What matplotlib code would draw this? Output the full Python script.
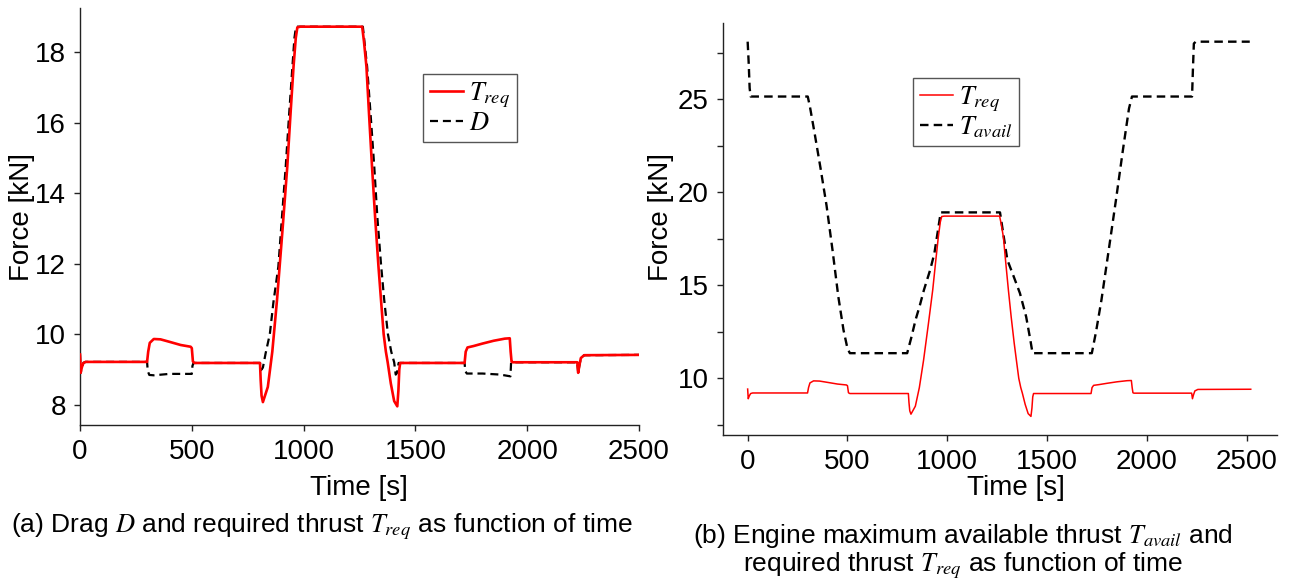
import matplotlib
matplotlib.use("Agg")
import matplotlib.pyplot as plt
import numpy as np

plt.rcParams['font.family'] = ['Liberation Sans', 'DejaVu Sans']
plt.rcParams['mathtext.fontset'] = 'stix'

# ---- data (time [s], force [kN]) ----
t_req = [0, 3, 8, 15, 25, 300, 305, 312, 330, 360, 400, 450, 495, 500, 505, 512,
         805, 808, 812, 818, 840, 860, 881, 905, 927, 942, 955, 965, 972, 985,
         1262, 1270, 1281, 1293, 1306, 1320, 1335, 1347, 1358, 1368, 1376, 1390,
         1405, 1419, 1424, 1428, 1432,
         1720, 1725, 1733, 1760, 1800, 1850, 1900, 1922, 1926, 1930, 1935,
         2224, 2228, 2233, 2240, 2255, 2520]
f_req = [9.42, 8.9, 9.05, 9.18, 9.21, 9.21, 9.5, 9.75, 9.86, 9.85, 9.78, 9.69, 9.64, 9.6, 9.22, 9.18,
         9.18, 8.7, 8.25, 8.07, 8.5, 9.5, 10.96, 12.9, 14.75, 16.3, 17.59, 18.4, 18.7, 18.72,
         18.72, 18.3, 17.59, 16.2, 14.75, 13.3, 11.9, 10.9, 10.0, 9.5, 9.2, 8.6,
         8.1, 7.95, 8.4, 9.0, 9.18,
         9.18, 9.5, 9.62, 9.66, 9.73, 9.81, 9.87, 9.88, 9.5, 9.22, 9.2,
         9.2, 8.9, 9.1, 9.32, 9.4, 9.41]

t_drag = [0, 3, 8, 15, 25, 300, 303, 310, 330, 400, 500, 503, 508,
          805, 810, 818, 830, 849, 865, 887, 903, 920, 936, 950, 959, 966,
          1265, 1272, 1284, 1300, 1316, 1330, 1346, 1360, 1377, 1392, 1405, 1412, 1418, 1425,
          1720, 1723, 1730, 1800, 1880, 1925, 1928,
          2224, 2228, 2233, 2240, 2255, 2520]
f_drag = [9.42, 8.9, 9.05, 9.18, 9.21, 9.21, 8.95, 8.84, 8.83, 8.87, 8.87, 9.1, 9.18,
          9.18, 8.98, 9.05, 9.45, 10.0, 10.9, 11.91, 13.3, 14.75, 16.3, 17.59, 18.4, 18.72,
          18.72, 18.3, 17.59, 16.2, 14.75, 13.3, 12.0, 11.0, 10.0, 9.5, 9.2, 8.85, 8.9, 9.18,
          9.18, 8.95, 8.88, 8.88, 8.85, 8.8, 9.2,
          9.2, 8.9, 9.1, 9.32, 9.4, 9.41]

t_avail = [0, 5, 10, 15, 301, 312, 335, 365, 395, 425, 454, 480, 500, 512,
           799, 820, 841, 862, 883, 914, 935, 956, 967,
           1264, 1280, 1301, 1333, 1364, 1395, 1416, 1427,
           1724, 1745, 1772, 1810, 1845, 1880, 1910, 1925,
           2226, 2230, 2235, 2245, 2515]
f_avail = [28.1, 27.0, 25.6, 25.15, 25.15, 24.6, 23.2, 21.3, 19.3, 16.9, 14.4, 12.6, 11.6, 11.35,
           11.35, 12.2, 13.14, 13.9, 14.75, 15.82, 16.7, 18.15, 18.92,
           18.92, 17.8, 16.36, 15.46, 14.57, 13.31, 12.06, 11.35,
           11.35, 12.5, 14.2, 17.0, 19.6, 22.3, 24.5, 25.15,
           25.15, 26.5, 28.0, 28.1, 28.1]

xticks = [0, 500, 1000, 1500, 2000, 2500]
yticks_a = [8, 10, 12, 14, 16, 18]
yticks_b = [10, 15, 20, 25]
yminor_b = [7.5, 12.5, 17.5, 22.5, 27.5]

W, H = 1295, 586
fig = plt.figure(figsize=(W / 100, H / 100), dpi=100)

def px_axes(x0, y0, x1, y1):
    return fig.add_axes([x0 / W, 1 - y1 / H, (x1 - x0) / W, (y1 - y0) / H])

FS = 20
CFS = 19
dash = (3.6, 2.2)

def style(ax):
    for s in ('top', 'right'):
        ax.spines[s].set_visible(False)
    for s in ('left', 'bottom'):
        ax.spines[s].set_linewidth(1.0)
        ax.spines[s].set_color('#222222')
    ax.tick_params(which='both', direction='out', length=4, width=1.0,
                   labelsize=FS, pad=6, color='#222222')

# ---- panel (a) ----
ax1 = px_axes(80, 8, 639, 425)
ax1.plot(t_drag, f_drag, color='black', lw=1.6, dashes=dash, label='$D$', zorder=2)
ax1.plot(t_req, f_req, color='#ff0000', lw=1.9, label='$T_{req}$', zorder=3)
ax1.set_xlim(0, 2500)
ax1.set_ylim(7.42, 19.25)
ax1.set_xticks(xticks)
ax1.set_yticks(yticks_a)
style(ax1)
h, l = ax1.get_legend_handles_labels()
leg1 = ax1.legend([h[1], h[0]], [l[1], l[0]], loc='upper left',
                  bbox_to_anchor=(0.6136, 0.842), borderaxespad=0, fontsize=19,
                  handlelength=1.25, handletextpad=0.25, labelspacing=0.05,
                  borderpad=0.25, fancybox=False, framealpha=1)
leg1.get_frame().set_edgecolor('#555555')
leg1.get_frame().set_linewidth(1.0)
fig.text(22 / W, 1 - 217 / H, 'Force [kN]', rotation=90, ha='center', va='center', fontsize=FS)
fig.text(359 / W, 1 - 488 / H, 'Time [s]', ha='center', va='center', fontsize=FS)
fig.text(322 / W, 1 - 527 / H, '(a) Drag $D$ and required thrust $T_{req}$ as function of time',
         ha='center', va='center', fontsize=CFS)

# ---- panel (b) ----
ax2 = px_axes(722.7, 22.7, 1276.7, 435)
ax2.plot(t_req, f_req, color='#ff0000', lw=1.1, label='$T_{req}$', zorder=3)
ax2.plot(t_avail, f_avail, color='black', lw=1.7, dashes=dash, label='$T_{avail}$', zorder=2)
ax2.set_xlim(-125, 2650)
ax2.set_ylim(6.95, 29.12)
ax2.set_xticks(xticks)
ax2.set_yticks(yticks_b)
ax2.set_yticks(yminor_b, minor=True)
style(ax2)
leg2 = ax2.legend(loc='upper left', bbox_to_anchor=(0.3435, 0.866), borderaxespad=0,
                  fontsize=19, handlelength=1.25, handletextpad=0.25, labelspacing=0.0,
                  borderpad=0.25, fancybox=False, framealpha=1)
leg2.get_frame().set_edgecolor('#555555')
leg2.get_frame().set_linewidth(1.0)
fig.text(661 / W, 1 - 217 / H, 'Force [kN]', rotation=90, ha='center', va='center', fontsize=FS)
fig.text(1016 / W, 1 - 488 / H, 'Time [s]', ha='center', va='center', fontsize=FS)
fig.text(963 / W, 1 - 536 / H, '(b) Engine maximum available thrust $T_{avail}$ and',
         ha='center', va='center', fontsize=CFS)
fig.text(963 / W, 1 - 566 / H, 'required thrust $T_{req}$ as function of time',
         ha='center', va='center', fontsize=CFS)

fig.savefig('out.png', dpi=100)
